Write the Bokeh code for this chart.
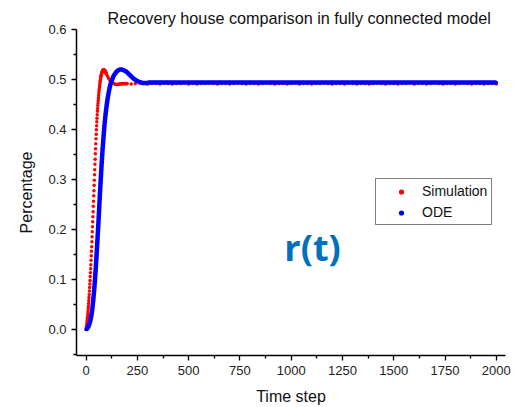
from bokeh.plotting import figure
from bokeh.models import (Range1d, FixedTicker, PrintfTickFormatter, Legend,
                          LegendItem, Label, ColumnDataSource)
from bokeh.embed import file_html
from bokeh.resources import INLINE

# ---------------- data ----------------
sim_t = list(range(0, 101, 1)) + list(range(105, 200, 5)) + list(range(200, 2001, 20))
sim_rise = [0.000, 0.003, 0.006, 0.010, 0.014, 0.018, 0.022, 0.026, 0.031, 0.036,
            0.041, 0.046, 0.052, 0.058, 0.064, 0.070, 0.077, 0.084, 0.091, 0.098,
            0.106, 0.114, 0.122, 0.130, 0.139, 0.148, 0.157, 0.166, 0.176, 0.186,
            0.196, 0.206, 0.216, 0.226, 0.236, 0.247, 0.257, 0.268, 0.278, 0.289,
            0.299, 0.310, 0.320, 0.331, 0.341, 0.352, 0.362, 0.372, 0.382, 0.391,
            0.400, 0.408, 0.416, 0.423, 0.430, 0.437, 0.443, 0.449, 0.454, 0.459,
            0.464, 0.469, 0.474, 0.478, 0.482, 0.486, 0.489, 0.493, 0.496, 0.499,
            0.502, 0.505, 0.507, 0.509, 0.511, 0.513, 0.514, 0.515, 0.516, 0.517,
            0.518, 0.519, 0.519, 0.520, 0.520, 0.520, 0.520, 0.520, 0.520, 0.519,
            0.519, 0.519, 0.518, 0.518, 0.517, 0.516, 0.515, 0.514, 0.513, 0.512,
            0.511]
sim_settle = [0.507, 0.503, 0.500, 0.497, 0.495, 0.494, 0.493, 0.492, 0.491, 0.491,
              0.491, 0.492, 0.492, 0.492, 0.493, 0.492, 0.493, 0.493, 0.492]
sim_flat = [0.493, 0.492, 0.493, 0.494, 0.493, 0.492, 0.493, 0.493, 0.492, 0.494,
            0.493, 0.492, 0.493, 0.493, 0.494, 0.492, 0.493, 0.492, 0.493, 0.493,
            0.494, 0.493, 0.492, 0.493, 0.493, 0.492, 0.493, 0.494, 0.493, 0.492,
            0.493, 0.493, 0.492, 0.493, 0.494, 0.493, 0.492, 0.493, 0.493, 0.492,
            0.493, 0.494, 0.492, 0.493, 0.493, 0.492, 0.493, 0.493, 0.494, 0.493,
            0.492, 0.493, 0.493, 0.492, 0.494, 0.493, 0.492, 0.493, 0.493, 0.492,
            0.493, 0.494, 0.493, 0.492, 0.493, 0.493, 0.492, 0.493, 0.493, 0.494,
            0.492, 0.493, 0.493, 0.492, 0.493, 0.494, 0.493, 0.492, 0.493, 0.493,
            0.492, 0.493, 0.494, 0.493, 0.492, 0.493, 0.493, 0.492, 0.493, 0.493,
            0.492]
sim_r = sim_rise + sim_settle + sim_flat

ode_t = list(range(0, 401, 5)) + list(range(450, 2001, 50))
ode_r = [0.000, 0.002, 0.005, 0.010, 0.017, 0.027, 0.041, 0.060, 0.083, 0.111,
         0.143, 0.178, 0.215, 0.254, 0.292, 0.328, 0.360, 0.388, 0.412, 0.432,
         0.449, 0.463, 0.475, 0.485, 0.493, 0.499, 0.504, 0.509, 0.512, 0.515,
         0.517, 0.519, 0.520, 0.521, 0.521, 0.521, 0.520, 0.519, 0.518, 0.517,
         0.515, 0.513, 0.511, 0.509, 0.507, 0.505, 0.503, 0.502, 0.500, 0.499,
         0.498, 0.497, 0.496, 0.495, 0.495, 0.494, 0.494, 0.494, 0.494, 0.494,
         0.494, 0.495, 0.495, 0.495, 0.495, 0.495, 0.495, 0.495, 0.495, 0.495,
         0.495, 0.495, 0.495, 0.495, 0.495, 0.495, 0.495, 0.495, 0.495, 0.495,
         0.495,
         0.495, 0.495, 0.495, 0.495, 0.495, 0.495, 0.495, 0.495, 0.495, 0.495,
         0.495, 0.495, 0.495, 0.495, 0.495, 0.495, 0.495, 0.495, 0.495, 0.495,
         0.495, 0.495, 0.495, 0.495, 0.495, 0.495, 0.495, 0.495, 0.495, 0.495,
         0.495, 0.495]

x_ticks = [0, 250, 500, 750, 1000, 1250, 1500, 1750, 2000]
x_minor = [125, 375, 625, 875, 1125, 1375, 1625, 1875]
y_ticks = [0.0, 0.1, 0.2, 0.3, 0.4, 0.5, 0.6]
y_minor = [-0.05, 0.05, 0.15, 0.25, 0.35, 0.45, 0.55]

title_text = "Recovery house comparison in fully connected model"
series_names = ["Simulation", "ODE"]

# ---------------- figure ----------------
FONT = "Liberation Sans"
p = figure(width=527, height=407, output_backend="svg", toolbar_location=None,
           x_range=Range1d(-47, 2045), y_range=Range1d(-0.052, 0.601),
           min_border_left=76, min_border_right=22, min_border_top=29,
           min_border_bottom=51)
p.outline_line_color = None
p.grid.visible = False
p.background_fill_color = "white"
p.border_fill_color = "white"

p.title.text = title_text
p.title.text_font = FONT
p.title.text_font_size = "16.2px"
p.title.text_font_style = "normal"
p.title.text_color = "#111111"
p.title.align = "left"
p.title.offset = 31
p.title.standoff = 6

sim_src = ColumnDataSource(dict(t=sim_t, r=sim_r))
ode_src = ColumnDataSource(dict(t=ode_t, r=ode_r))

r_sim = p.scatter("t", "r", source=sim_src, size=3.5, color="#ff0000", line_color=None)
p.line("t", "r", source=ode_src, line_width=4.5, color="#0000ff")
r_ode = p.scatter("t", "r", source=ode_src, size=3.5, color="#0000ff", line_color=None)

for ax in (p.xaxis[0], p.yaxis[0]):
    ax.axis_line_color = "black"
    ax.axis_line_width = 1.5
    ax.major_tick_line_color = "black"
    ax.minor_tick_line_color = "black"
    ax.major_tick_line_width = 1.3
    ax.minor_tick_line_width = 1.3
    ax.major_tick_in = 0
    ax.major_tick_out = 5
    ax.minor_tick_in = 0
    ax.minor_tick_out = 3
    ax.major_label_text_font = FONT
    ax.major_label_text_font_size = "13px"
    ax.major_label_text_color = "#222222"
    ax.axis_label_text_font = FONT
    ax.axis_label_text_font_size = "16px"
    ax.axis_label_text_font_style = "normal"
    ax.axis_label_text_color = "#111111"

p.xaxis.ticker = FixedTicker(ticks=x_ticks, minor_ticks=x_minor)
p.yaxis.ticker = FixedTicker(ticks=y_ticks, minor_ticks=y_minor)
p.yaxis.formatter = PrintfTickFormatter(format="%.1f")
p.xaxis.axis_label = "Time step"
p.yaxis.axis_label = "Percentage"
p.xaxis.major_label_standoff = 5
p.yaxis.major_label_standoff = 5
p.xaxis.axis_label_standoff = 10
p.yaxis.axis_label_standoff = 10

legend = Legend(items=[LegendItem(label=series_names[0], renderers=[r_sim]),
                       LegendItem(label=series_names[1], renderers=[r_ode])],
                location=(299, 130), margin=0, padding=4, spacing=5,
                glyph_width=42, glyph_height=13, label_height=13, label_standoff=0,
                label_text_font=FONT, label_text_font_size="14px",
                label_text_color="#111111",
                border_line_color="black", border_line_width=1,
                background_fill_color="white", background_fill_alpha=1)
p.add_layout(legend)

p.add_layout(Label(x=1104, y=0.164, text="r(t)", text_font="Open Sans",
                   text_font_style="bold", text_font_size="36px",
                   text_color="#0070C0", text_align="center",
                   text_baseline="middle"))

open("out.html", "w").write(file_html(p, INLINE))
